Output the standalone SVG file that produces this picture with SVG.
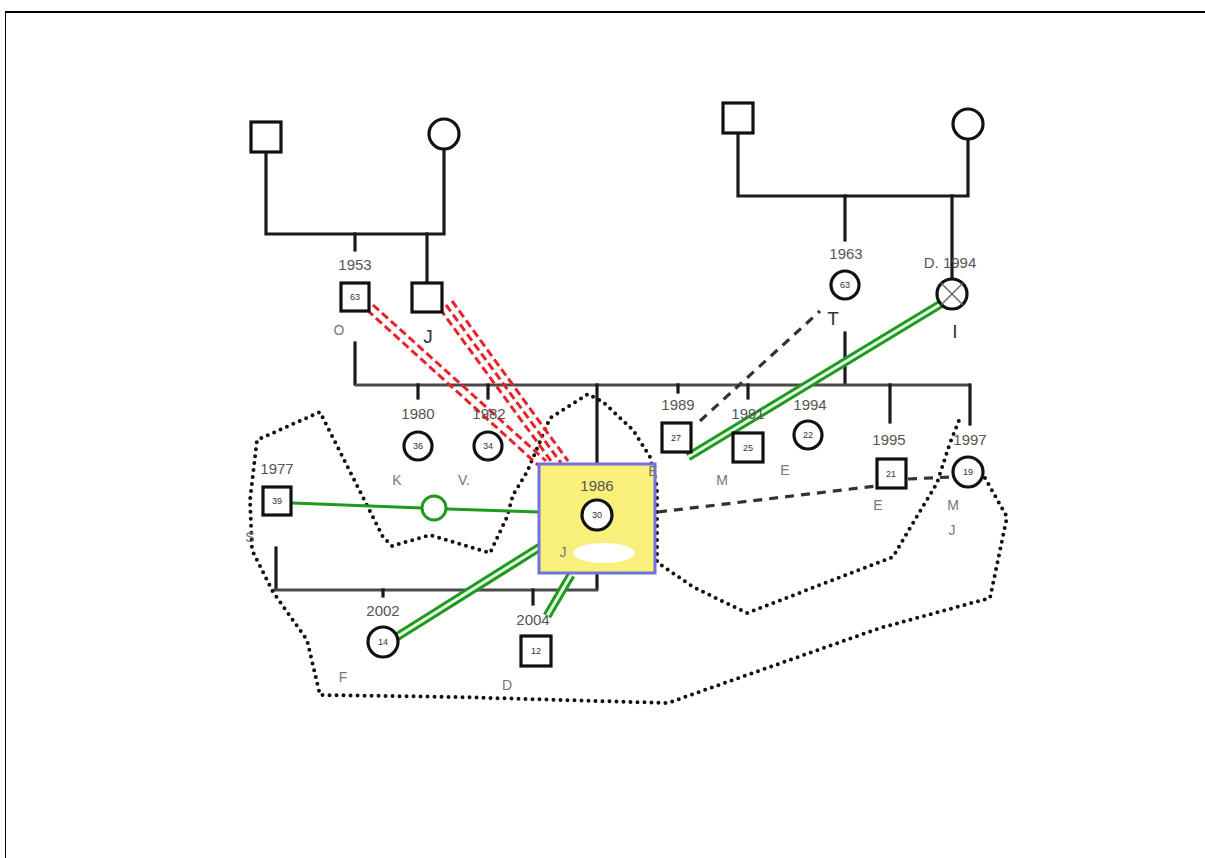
<svg xmlns="http://www.w3.org/2000/svg" width="1205" height="858" viewBox="0 0 1205 858">
<style>
.ln{stroke:#1a1a1a;stroke-width:3.2;fill:none;stroke-linecap:square}
.gl{stroke:#4a4a4a;stroke-width:3.2;fill:none}
.sq{fill:#fff;stroke:#111;stroke-width:3.2}
.ci{fill:#fff;stroke:#111;stroke-width:3.2}
.yr{font-family:"Liberation Sans",Arial,sans-serif;font-size:15px;fill:#555;text-anchor:middle}
.lb{font-family:"Liberation Sans",Arial,sans-serif;font-size:14px;fill:#777;text-anchor:middle}
.big{font-family:"Liberation Sans",Arial,sans-serif;font-size:19px;fill:#333;text-anchor:middle}
.age{font-family:"Liberation Sans",Arial,sans-serif;font-size:9px;fill:#333;text-anchor:middle}
.dot{stroke:#111;stroke-width:4;fill:none;stroke-dasharray:0 7;stroke-linecap:round;stroke-linejoin:round}
.dash{stroke:#333;stroke-width:3.2;fill:none;stroke-dasharray:9 7}
.red{stroke:#e8242a;stroke-width:3;fill:none;stroke-dasharray:8 4}
.gro{stroke:#1e9a1e;stroke-width:9;fill:none}
.gri{stroke:#eaffea;stroke-width:3;fill:none}
</style>
<rect width="1205" height="858" fill="#fff"/>
<g id="frame">
<line x1="5" y1="12" x2="1205" y2="12" stroke="#000" stroke-width="2"/>
<line x1="5.5" y1="12" x2="5.5" y2="858" stroke="#000" stroke-width="1"/>
</g>
<g id="connectors">
<polyline class="ln" points="266,152 266,234 444,234 444,149"/>
<line class="ln" x1="355" y1="234" x2="355" y2="250"/>
<line class="ln" x1="427" y1="234" x2="427" y2="283"/>
<polyline class="ln" points="738,132 738,196 968,196 968,140"/>
<line class="ln" x1="845" y1="196" x2="845" y2="240"/>
<line class="ln" x1="952" y1="196" x2="952" y2="278"/>
<line class="ln" x1="355" y1="343" x2="355" y2="384"/>
<line class="ln" x1="845" y1="333" x2="845" y2="384"/>
<line class="gl" x1="355" y1="385" x2="970" y2="385"/>
<line class="ln" x1="418" y1="385" x2="418" y2="398"/>
<line class="ln" x1="488" y1="385" x2="488" y2="398"/>
<line class="ln" x1="597" y1="385" x2="597" y2="464"/>
<line class="ln" x1="678" y1="385" x2="678" y2="392"/>
<line class="ln" x1="748" y1="385" x2="748" y2="398"/>
<line class="ln" x1="890" y1="385" x2="890" y2="422"/>
<line class="ln" x1="970" y1="385" x2="970" y2="424"/>
<line class="ln" x1="597" y1="573" x2="597" y2="589"/>
<line class="ln" x1="276" y1="548" x2="276" y2="589"/>
<line class="gl" x1="273" y1="590" x2="598" y2="590"/>
<line class="ln" x1="383" y1="590" x2="383" y2="596"/>
<line class="ln" x1="533" y1="590" x2="533" y2="604"/>
<polyline class="dot" points="985,478 1007,517 990,598 880,628 668,703 457,697 320,695 307,640 273,592 252,550 250,500 257,440 320,412 383,537 392,546 430,535 490,553 507,517 513,495 527,472 550,418 588,394 603,402 633,430 650,457 657,487 657,562 693,587 747,613 893,557 910,528 937,483 950,443 960,418"/>
<line class="red" x1="367" y1="310" x2="538" y2="465"/>
<line class="red" x1="373" y1="305" x2="546" y2="461"/>
<line class="red" x1="440" y1="309" x2="554" y2="465"/>
<line class="red" x1="446" y1="305" x2="561" y2="463"/>
<line class="red" x1="452" y1="301" x2="568" y2="461"/>
<line class="dash" x1="700" y1="421" x2="820" y2="311"/>
<line class="dash" x1="658" y1="512" x2="876" y2="486"/>
<line class="dash" x1="908" y1="479" x2="950" y2="477"/>
<polyline points="292,503 422,508" stroke="#1e9a1e" stroke-width="3" fill="none"/>
<polyline points="447,509 539,512" stroke="#1e9a1e" stroke-width="3" fill="none"/>
<line class="gro" x1="688" y1="457" x2="944" y2="302"/>
<line class="gri" x1="688" y1="457" x2="944" y2="302"/>
<line class="gro" x1="395" y1="638" x2="540" y2="547"/>
<line class="gri" x1="395" y1="638" x2="540" y2="547"/>
<line class="gro" x1="547" y1="616" x2="571" y2="575"/>
<line class="gri" x1="547" y1="616" x2="571" y2="575"/>
</g>
<g id="gf-left"><rect class="sq" x="251" y="122" width="30" height="30"/></g>
<g id="gm-left"><circle class="ci" cx="444" cy="134" r="15"/></g>
<g id="gf-right"><rect class="sq" x="723" y="103" width="30" height="30"/></g>
<g id="gm-right"><circle class="ci" cx="968" cy="124" r="15"/></g>
<g id="O"><text class="yr" x="355" y="270">1953</text><rect class="sq" x="341" y="283" width="28" height="28"/><text class="age" x="355" y="300">63</text><text class="lb" x="339" y="335">O</text></g>
<g id="J-uncle"><rect class="sq" x="412" y="283" width="30" height="29"/><text class="big" x="428" y="343">J</text></g>
<g id="T"><text class="yr" x="846" y="259">1963</text><circle class="ci" cx="845" cy="285" r="14"/><text class="age" x="845" y="288">63</text><text class="big" x="833" y="325">T</text></g>
<g id="I"><text class="yr" x="950" y="268">D. 1994</text><circle class="ci" cx="952" cy="294" r="15"/><line x1="941" y1="283" x2="963" y2="305" stroke="#666" stroke-width="1.5"/><line x1="963" y1="283" x2="941" y2="305" stroke="#666" stroke-width="1.5"/><text class="big" x="955" y="338">I</text></g>
<g id="K"><text class="yr" x="418" y="419">1980</text><circle class="ci" cx="418" cy="446" r="14"/><text class="age" x="418" y="449">36</text><text class="lb" x="397" y="485">K</text></g>
<g id="V"><text class="yr" x="489" y="419">1982</text><circle class="ci" cx="488" cy="446" r="14"/><text class="age" x="488" y="449">34</text><text class="lb" x="464" y="485">V.</text></g>
<g id="S"><text class="yr" x="277" y="474">1977</text><rect class="sq" x="263" y="487" width="28" height="28"/><text class="age" x="277" y="504">39</text><text class="lb" x="250" y="542">S</text></g>
<g id="partner-circle"><circle cx="434" cy="508" r="12" fill="#fff" stroke="#1e9a1e" stroke-width="3"/></g>
<g id="J-focus">
<rect x="539" y="464" width="116" height="109" fill="#f8f07a" stroke="#7272dc" stroke-width="3"/>
<text class="yr" x="597" y="491">1986</text>
<circle class="ci" cx="597" cy="515" r="15"/><text class="age" x="597" y="518">30</text>
<ellipse cx="604" cy="553" rx="31" ry="10" fill="#fff"/>
<text class="lb" x="563" y="557" fill="#444">J</text>
</g>
<g id="E1"><text class="yr" x="678" y="410">1989</text><rect class="sq" x="662" y="423" width="29" height="29"/><text class="age" x="676" y="441">27</text><text class="lb" x="653" y="476">E</text></g>
<g id="M1"><text class="yr" x="748" y="419">1991</text><rect class="sq" x="733" y="433" width="30" height="29"/><text class="age" x="748" y="451">25</text><text class="lb" x="722" y="485">M</text></g>
<g id="E2"><text class="yr" x="810" y="410">1994</text><circle class="ci" cx="808" cy="435" r="14"/><text class="age" x="808" y="438">22</text><text class="lb" x="785" y="475">E</text></g>
<g id="E3"><text class="yr" x="889" y="445">1995</text><rect class="sq" x="877" y="459" width="29" height="29"/><text class="age" x="891" y="477">21</text><text class="lb" x="878" y="510">E</text></g>
<g id="MJ"><text class="yr" x="970" y="445">1997</text><circle class="ci" cx="968" cy="472" r="15"/><text class="age" x="968" y="475">19</text><text class="lb" x="953" y="510">M</text><text class="lb" x="952" y="535">J</text></g>
<g id="F"><text class="yr" x="383" y="616">2002</text><circle class="ci" cx="383" cy="642" r="15"/><text class="age" x="383" y="645">14</text><text class="lb" x="343" y="682">F</text></g>
<g id="D"><text class="yr" x="533" y="625">2004</text><rect class="sq" x="521" y="636" width="30" height="30"/><text class="age" x="536" y="654">12</text><text class="lb" x="507" y="690">D</text></g>
</svg>
